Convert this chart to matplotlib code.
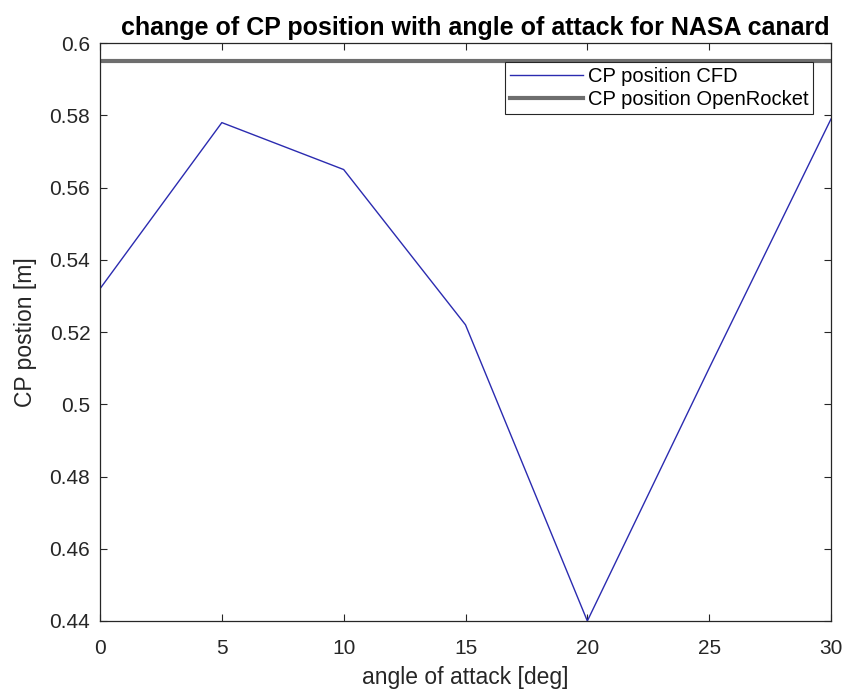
import matplotlib.pyplot as plt

plt.rcParams['font.family'] = ['Liberation Sans', 'DejaVu Sans']

aoa = [0, 5, 10, 15, 20, 25, 30]
cp_cfd = [0.532, 0.578, 0.565, 0.522, 0.44, 0.51, 0.579]
cp_openrocket = 0.595

fig = plt.figure(figsize=(8.49, 6.96), dpi=100)
ax = fig.add_axes([0.1178, 0.1078, 0.861, 0.8302])

ax.plot(aoa, cp_cfd, color='#2b2bb0', lw=1.0, label='CP position CFD')
ax.axhline(cp_openrocket, color='#6e6e6e', lw=3, label='CP position OpenRocket')

ax.set_xlim(0, 30)
ax.set_ylim(0.44, 0.6)
ax.set_xticks([0, 5, 10, 15, 20, 25, 30])
ax.set_yticks([0.44, 0.46, 0.48, 0.5, 0.52, 0.54, 0.56, 0.58, 0.6])
ax.set_yticklabels(['0.44', '0.46', '0.48', '0.5', '0.52', '0.54', '0.56', '0.58', '0.6'])
ax.tick_params(direction='in', top=True, right=True, labelsize=15,
               colors='#262626', length=5, width=0.8)
ax.tick_params(axis='x', pad=13)
ax.tick_params(axis='y', pad=7)
for s in ax.spines.values():
    s.set_color('#262626')
    s.set_linewidth(0.9)

ax.set_xlabel('angle of attack [deg]', fontsize=16.5, color='#262626', labelpad=6)
ax.set_ylabel('CP postion [m]', fontsize=16.5, color='#262626', labelpad=9)
ax.set_title('change of CP position with angle of attack for NASA canard',
             fontsize=18, fontweight='bold', pad=6, x=0.513)

leg = ax.legend(loc='upper right', bbox_to_anchor=(0.976, 0.967), fontsize=14.5,
                fancybox=False, framealpha=1, edgecolor='#262626',
                handlelength=3.6, handletextpad=0.25, borderpad=0.25,
                labelspacing=0.2, borderaxespad=0)
leg.get_frame().set_linewidth(0.8)

fig.savefig('out.png', dpi=100)
